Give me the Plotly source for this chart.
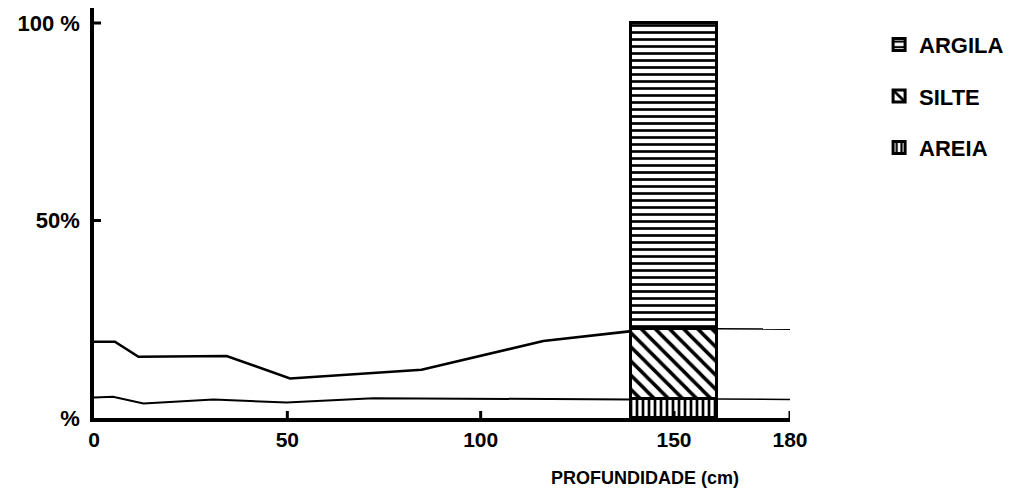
import plotly.graph_objects as go

# ---- data ----
# upper curve (silte + areia), left of the column and right of it
DEPTH_UP_L = [0, 5.4, 11.5, 34.3, 50.7, 63.6, 84.7, 116.2, 139]
UPPER_L = [19.3, 19.3, 15.5, 15.7, 10.0, 10.9, 12.2, 19.5, 22.0]
DEPTH_UP_R = [161, 180]
UPPER_R = [22.6, 22.5]
# lower curve (areia)
DEPTH_LO_L = [0, 4.9, 12.8, 30.9, 49.8, 63.6, 72.2, 139]
LOWER_L = [5.2, 5.4, 3.7, 4.7, 3.9, 4.6, 5.0, 4.7]
DEPTH_LO_R = [161, 180]
LOWER_R = [4.8, 4.7]

# column at ~150 cm
COL_DEPTH = [150]
AREIA = [4.8]
SILTE = [17.7]
ARGILA = [77.5]

X_TICKS = [0, 50, 100, 150, 180]
X_LABELS = ["0", "50", "100", "150", "180"]
Y_TICKS = [0, 50, 100]
Y_LABELS = ["%", "50%", "100 %"]

FONT = "Liberation Sans"

fig = go.Figure()

bar_common = dict(x=COL_DEPTH, width=22, marker_line=dict(color="black", width=3))
fig.add_trace(go.Bar(y=AREIA, name="AREIA", legendgroup="c", legendrank=3,
                     marker=dict(color="white",
                                 pattern=dict(shape="|", fgcolor="black", bgcolor="white",
                                              fgopacity=1, size=6, solidity=0.45)),
                     **bar_common))
fig.add_trace(go.Bar(y=SILTE, name="SILTE", legendgroup="b", legendrank=2,
                     marker=dict(color="white",
                                 pattern=dict(shape="\\", fgcolor="black", bgcolor="white",
                                              fgopacity=1, size=10, solidity=0.35)),
                     **bar_common))
fig.add_trace(go.Bar(y=ARGILA, name="ARGILA", legendgroup="a", legendrank=1,
                     marker=dict(color="white",
                                 pattern=dict(shape="-", fgcolor="black", bgcolor="white",
                                              fgopacity=1, size=7, solidity=0.38)),
                     **bar_common))

line_style_l = dict(mode="lines", showlegend=False, hoverinfo="skip")
fig.add_trace(go.Scatter(x=DEPTH_UP_L, y=UPPER_L, line=dict(color="black", width=2.6), **line_style_l))
fig.add_trace(go.Scatter(x=DEPTH_UP_R, y=UPPER_R, line=dict(color="black", width=1.6), **line_style_l))
fig.add_trace(go.Scatter(x=DEPTH_LO_L, y=LOWER_L, line=dict(color="black", width=2), **line_style_l))
fig.add_trace(go.Scatter(x=DEPTH_LO_R, y=LOWER_R, line=dict(color="black", width=1.5), **line_style_l))

# crossing tick marks
for t in X_TICKS[1:]:
    fig.add_shape(type="line", xref="x", yref="y", x0=t, x1=t,
                  ysizemode="pixel", yanchor=0, y0=-7, y1=7,
                  line=dict(color="black", width=3))
for t in Y_TICKS[1:]:
    fig.add_shape(type="line", xref="x", yref="y", y0=t, y1=t,
                  xsizemode="pixel", xanchor=0, x0=-6, x1=7,
                  line=dict(color="black", width=3))

fig.add_annotation(text="PROFUNDIDADE (cm)", xref="x", yref="paper", x=142.5, y=0,
                   yanchor="middle", yshift=-60, showarrow=False,
                   font=dict(family=FONT, size=18, color="black", weight="bold"))

fig.update_layout(
    width=1017, height=494,
    margin=dict(l=94, r=227, t=8, b=76),
    paper_bgcolor="white", plot_bgcolor="white",
    barmode="stack", bargap=0,
    showlegend=True,
    legend=dict(x=1.128, xanchor="left", y=0.962, yanchor="top",
                traceorder="grouped", tracegroupgap=20,
                font=dict(family=FONT, size=22, color="black", weight="bold"),
                itemwidth=30),
    xaxis=dict(range=[0, 180], showgrid=False, zeroline=False,
               showline=True, linecolor="black", linewidth=3.5,
               tickmode="array", tickvals=X_TICKS, ticktext=X_LABELS, ticks="",
               ticklabelstandoff=0,
               tickfont=dict(family=FONT, size=21, color="black", weight="bold")),
    yaxis=dict(range=[0, 103.8], showgrid=False, zeroline=False,
               showline=True, linecolor="black", linewidth=3.5,
               tickmode="array", tickvals=Y_TICKS, ticktext=Y_LABELS, ticks="",
               ticklabelstandoff=6,
               tickfont=dict(family=FONT, size=22, color="black", weight="bold")),
)

fig.write_html("out.html")
